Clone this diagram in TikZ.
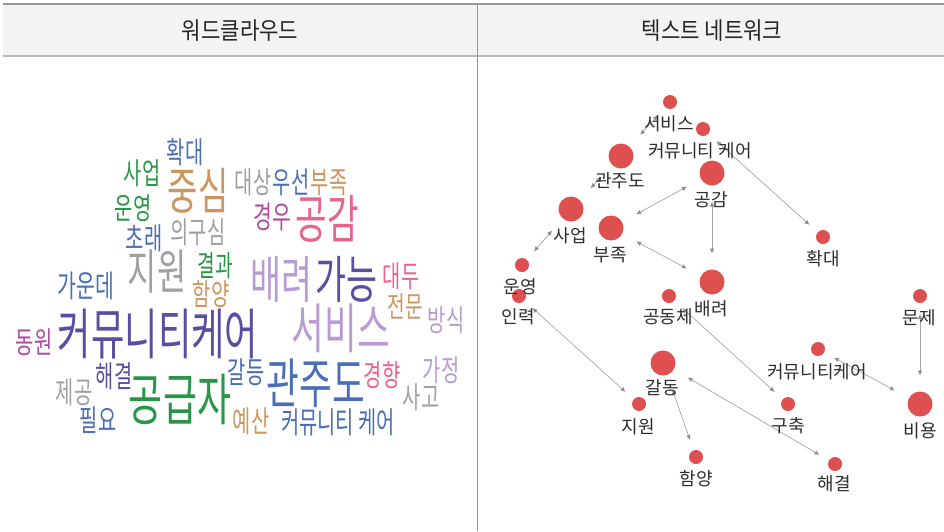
\documentclass[tikz,border=0pt]{standalone}
\usepackage{fontspec}
\setmainfont{Noto Sans CJK KR}
\newfontfamily\wcfont[FakeStretch=0.66]{Noto Sans CJK KR}
\newfontfamily\hdfont[FakeStretch=0.88]{Noto Sans CJK KR}
\usetikzlibrary{arrows.meta}
\definecolor{hdbg}{RGB}{242,243,243}
\definecolor{framegrey}{RGB}{150,150,150}
\definecolor{rulegrey}{RGB}{185,185,185}
\definecolor{wcblue}{RGB}{75,110,180}
\definecolor{wcgreen}{RGB}{40,150,70}
\definecolor{wctan}{RGB}{205,150,95}
\definecolor{wcgrey}{RGB}{160,160,160}
\definecolor{wcmagenta}{RGB}{175,75,160}
\definecolor{wcpink}{RGB}{232,100,140}
\definecolor{wclpurple}{RGB}{185,155,210}
\definecolor{wcdpurple}{RGB}{90,78,160}
\definecolor{netred}{RGB}{222,80,80}
\definecolor{labelgrey}{RGB}{45,45,45}
\definecolor{linkgrey}{RGB}{165,165,165}
\definecolor{tipgrey}{RGB}{140,140,140}
\tikzset{
  hdtext/.style={font=\hdfont\fontsize{24pt}{24pt}\selectfont, text=black!85, inner sep=0pt},
  wcword/.style={font=\wcfont, inner sep=0pt, anchor=base},
  sdot/.style={circle, fill=netred, minimum size=14pt, inner sep=0pt, outer sep=11pt},
  ldot/.style={circle, fill=netred, minimum size=25pt, inner sep=0pt, outer sep=16pt},
  nlabel/.style={font=\fontsize{18pt}{18pt}\selectfont, text=labelgrey, inner sep=0pt, anchor=base},
  link/.style={draw=linkgrey, line width=0.7pt,
    {Latex[length=5pt,width=4.5pt,color=tipgrey]}-{Latex[length=5pt,width=4.5pt,color=tipgrey]}}
}
\newcommand\wcw[6]{\node[wcword, text=#5] (#1) at (#2,{#3+0.38*#4}) {\fontsize{#4pt}{#4pt}\selectfont #6};}
\newcommand\nlab[4]{\node[nlabel] (#1) at (#2,{#3+6.8}) {#4};}
\begin{document}
\begin{tikzpicture}[x=1pt,y=-1pt]
\useasboundingbox (0,0) rectangle (944,531);
% header
\fill[hdbg] (3,4) rectangle (944,56);
\draw[framegrey, line width=1.5pt] (3,4) -- (944,4);
\draw[rulegrey, line width=1.5pt] (3,56) -- (944,56);
\draw[framegrey, line width=1.2pt] (477.7,4) -- (477.7,531);
\node[hdtext] (h1) at (240,31) {워드클라우드};
\node[hdtext] (h2) at (712,31) {텍스트 네트워크};
% word cloud
\wcw{w1}{185}{152}{30}{wcblue}{확대}
\wcw{w2}{142}{173}{30}{wcgreen}{사업}
\wcw{w3}{198}{190}{50}{wctan}{중심}
\wcw{w4}{253}{182}{30}{wcgrey}{대상}
\wcw{w5}{291}{182}{30}{wcblue}{우선}
\wcw{w6}{329}{182}{30}{wctan}{부족}
\wcw{w7}{133}{208}{30}{wcgreen}{운영}
\wcw{w8}{272}{217}{31}{wcmagenta}{경우}
\wcw{w9}{327}{219}{52}{wcpink}{공감}
\wcw{w10}{198}{232}{30}{wcgrey}{의구심}
\wcw{w11}{144}{238}{30}{wcblue}{초래}
\wcw{w12}{157}{271}{48}{wcgrey}{지원}
\wcw{w13}{215}{265}{29}{wcgreen}{결과}
\wcw{w14}{86}{286}{31}{wcblue}{가운데}
\wcw{w15}{211}{294}{30}{wctan}{함양}
\wcw{w16}{281}{279}{51}{wclpurple}{배려}
\wcw{w17}{346}{279}{51}{wcdpurple}{가능}
\wcw{w18}{401}{276}{30}{wcpink}{대두}
\wcw{w19}{405}{306}{29}{wctan}{전문}
\wcw{w20}{446}{320}{30}{wclpurple}{방식}
\wcw{w21}{158}{334}{55}{wcdpurple}{커뮤니티케어}
\wcw{w22}{34}{342}{30}{wcmagenta}{동원}
\wcw{w23}{341}{328}{54}{wclpurple}{서비스}
\wcw{w24}{114}{376}{30}{wcdpurple}{해결}
\wcw{w25}{74}{392}{30}{wcgrey}{제공}
\wcw{w26}{180}{399}{56}{wcgreen}{공급자}
\wcw{w27}{246}{372}{30}{wcblue}{갈등}
\wcw{w28}{316}{383}{54}{wcblue}{관주도}
\wcw{w29}{382}{375}{30}{wcpink}{경향}
\wcw{w30}{441}{370}{30}{wclpurple}{가정}
\wcw{w31}{421}{397}{30}{wcgrey}{사고}
\wcw{w32}{98}{420}{30}{wcblue}{필요}
\wcw{w33}{251}{421}{30}{wctan}{예산}
\wcw{w34}{338}{422}{30}{wcblue}{커뮤니티 케어}
% network dots
\node[sdot] (dSvc) at (670,102) {};
\node[sdot] (dCC1) at (703,129) {};
\node[ldot] (dGwan) at (621,156) {};
\node[ldot] (dGonggam) at (712,173) {};
\node[ldot] (dSaeop) at (571,209) {};
\node[ldot] (dBujok) at (611,228) {};
\node[sdot] (dHwak) at (823,237) {};
\node[sdot] (dUn) at (522,265) {};
\node[ldot] (dBae) at (712,282) {};
\node[sdot] (dIn) at (519,296) {};
\node[sdot] (dGong) at (669,296) {};
\node[sdot] (dMun) at (920,296) {};
\node[sdot] (dCC2) at (818,349) {};
\node[ldot] (dGal) at (663,363) {};
\node[sdot] (dJi) at (639,404) {};
\node[sdot] (dGu) at (788,404) {};
\node[ldot] (dBi) at (920,404) {};
\node[sdot] (dHam) at (696,457) {};
\node[sdot] (dHae) at (835,464) {};
% network links
\draw[link] (dSvc) -- (dGwan);
\draw[link] (dGwan) -- (dSaeop);
\draw[link] (dSaeop) -- (dUn);
\draw[link] (dGonggam) -- (dBujok);
\draw[link] (dCC1) -- (dHwak);
\draw[link] (dGonggam) -- (dBae);
\draw[link] (dBujok) -- (dBae);
\draw[link] (dIn) -- (dJi);
\draw[link] (dGong) -- (dGu);
\draw[link] (dGal) -- (dHae);
\draw[link] (dGal) -- (dHam);
\draw[link] (dCC2) -- (dBi);
\draw[link] (dMun) -- (dBi);
% network labels
\nlab{lSvc}{669}{124}{서비스}
\nlab{lCC1}{700}{151}{커뮤니티 케어}
\nlab{lGwan}{620}{181}{관주도}
\nlab{lGonggam}{711}{200}{공감}
\nlab{lSaeop}{570}{236}{사업}
\nlab{lBujok}{610}{255}{부족}
\nlab{lHwak}{823}{259}{확대}
\nlab{lUn}{520}{287}{운영}
\nlab{lIn}{518}{317}{인력}
\nlab{lGong}{668}{317}{공동체}
\nlab{lBae}{711}{309}{배려}
\nlab{lMun}{919}{318}{문제}
\nlab{lCC2}{817}{372}{커뮤니티케어}
\nlab{lGal}{662}{388}{갈동}
\nlab{lJi}{638}{427}{지원}
\nlab{lGu}{788}{426}{구축}
\nlab{lBi}{920}{431}{비용}
\nlab{lHam}{696}{479}{함양}
\nlab{lHae}{834}{484}{해결}
\end{tikzpicture}
\end{document}
